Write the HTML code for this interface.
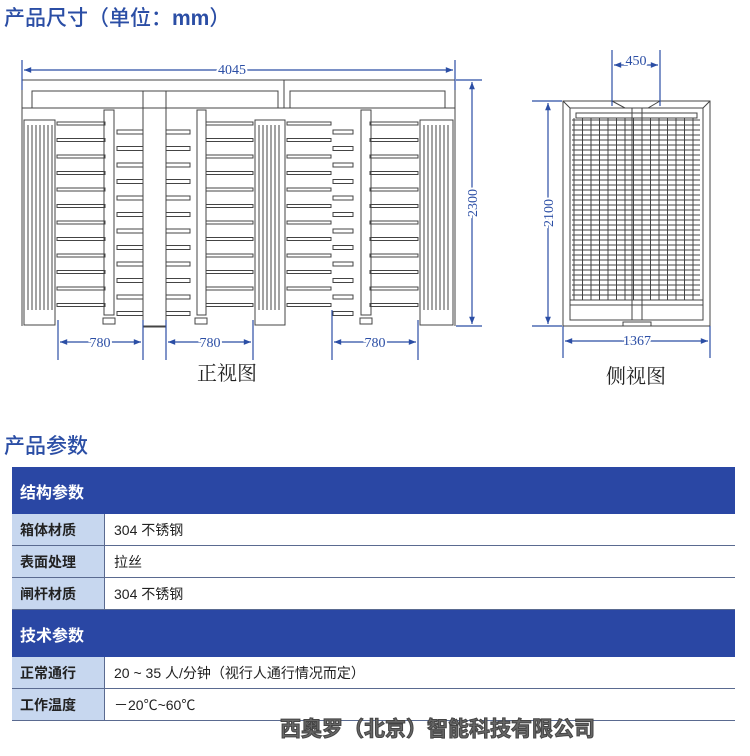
<!DOCTYPE html>
<html><head><meta charset="utf-8">
<style>
body{margin:0;width:750px;height:756px;background:#fff;position:relative;overflow:hidden;font-family:"Liberation Sans","Noto Sans CJK SC",sans-serif}
.t{position:absolute;color:#2b4ea5;font-weight:500}
table{position:absolute;left:12px;top:467px;width:723px;border-collapse:collapse;font-size:14px}
td{padding:0 0 0 8px;color:#222}
.h td{background:#2a47a4;color:#fff;font-size:16px;height:47px;font-weight:bold}
.r td{height:31px;border-bottom:1.5px solid #5a6a90}
.r td.l{background:#c7d7ef;width:84px;font-weight:bold;border-right:1.5px solid #5a6a90}
.r td.v{padding-left:9px}
</style></head><body>
<div class="t" style="left:4px;top:2px;font-size:21px">产品尺寸（单位：<b>mm</b>）</div>
<div class="t" style="left:4px;top:430px;font-size:21px">产品参数</div>
<svg id="s" width="750" height="430" style="position:absolute;left:0;top:0" font-family="Liberation Serif,serif">
<defs><marker id="a" viewBox="0 0 10 10" refX="10" refY="5" markerWidth="8" markerHeight="6" orient="auto-start-reverse"><path d="M0,1 L10,5 L0,9z" fill="#2b4ea5"/></marker></defs>
<g id="g" stroke="#444" fill="none" stroke-width="1"></g>
<g stroke="#2b4ea5" stroke-width="1.2" fill="none">
<line x1="22" y1="60" x2="22" y2="90"/><line x1="455" y1="60" x2="455" y2="90"/>
<line x1="24" y1="70" x2="453" y2="70" marker-start="url(#a)" marker-end="url(#a)"/>
<line x1="456" y1="80" x2="482" y2="80"/><line x1="456" y1="326" x2="482" y2="326"/>
<line x1="472" y1="82" x2="472" y2="324" marker-start="url(#a)" marker-end="url(#a)"/>
<line x1="58" y1="320" x2="58" y2="360"/><line x1="143" y1="320" x2="143" y2="360"/>
<line x1="166" y1="320" x2="166" y2="360"/><line x1="253" y1="320" x2="253" y2="360"/>
<line x1="332" y1="310" x2="332" y2="360"/><line x1="418" y1="320" x2="418" y2="360"/>
<line x1="60" y1="342" x2="141" y2="342" marker-start="url(#a)" marker-end="url(#a)"/>
<line x1="168" y1="342" x2="251" y2="342" marker-start="url(#a)" marker-end="url(#a)"/>
<line x1="334" y1="342" x2="416" y2="342" marker-start="url(#a)" marker-end="url(#a)"/>
<line x1="612" y1="50" x2="612" y2="106"/><line x1="660" y1="50" x2="660" y2="106"/>
<line x1="614" y1="65" x2="658" y2="65" marker-start="url(#a)" marker-end="url(#a)"/>
<line x1="532" y1="101" x2="562" y2="101"/><line x1="532" y1="326" x2="562" y2="326"/>
<line x1="548" y1="103" x2="548" y2="324" marker-start="url(#a)" marker-end="url(#a)"/>
<line x1="563" y1="326" x2="563" y2="358"/><line x1="710" y1="326" x2="710" y2="358"/>
<line x1="565" y1="341" x2="708" y2="341" marker-start="url(#a)" marker-end="url(#a)"/>
</g>
<g fill="#2b4ea5" font-size="14" text-anchor="middle">
<text x="232" y="74" style="paint-order:stroke" stroke="#fff" stroke-width="4">4045</text>
<text x="100" y="347" stroke="#fff" stroke-width="4" style="paint-order:stroke">780</text>
<text x="210" y="347" stroke="#fff" stroke-width="4" style="paint-order:stroke">780</text>
<text x="375" y="347" stroke="#fff" stroke-width="4" style="paint-order:stroke">780</text>
<text x="636" y="65" stroke="#fff" stroke-width="4" style="paint-order:stroke">450</text>
<text x="637" y="345" stroke="#fff" stroke-width="4" style="paint-order:stroke">1367</text>
<text transform="translate(477,203) rotate(-90)" stroke="#fff" stroke-width="4" style="paint-order:stroke">2300</text>
<text transform="translate(553,213) rotate(-90)" stroke="#fff" stroke-width="4" style="paint-order:stroke">2100</text>
</g>
<g fill="#222" font-size="20" font-family="Liberation Serif,Noto Serif CJK SC,serif" text-anchor="middle">
<text x="227" y="380">正视图</text><text x="636" y="383">侧视图</text></g>
</svg>
<table>
<tr class="h"><td colspan="2">结构参数</td></tr>
<tr class="r"><td class="l">箱体材质</td><td class="v">304 不锈钢</td></tr>
<tr class="r"><td class="l">表面处理</td><td class="v">拉丝</td></tr>
<tr class="r" style="border-bottom:none"><td class="l">闸杆材质</td><td class="v">304 不锈钢</td></tr>
<tr class="h"><td colspan="2">技术参数</td></tr>
<tr class="r"><td class="l">正常通行</td><td class="v">20 ~ 35 人/分钟（视行人通行情况而定）</td></tr>
<tr class="r"><td class="l">工作温度</td><td class="v">－20℃~60℃</td></tr>
</table>
<div style="position:absolute;left:280px;top:713px;font-size:21px;font-weight:bold;color:#666;-webkit-text-stroke:1px #444">西奥罗（北京）智能科技有限公司</div>
<script>
var g=document.getElementById('g'),s='';
function R(x,y,w,h){s+='<rect x="'+x+'" y="'+y+'" width="'+w+'" height="'+h+'"/>';}
function L(a,b,c,d){s+='<line x1="'+a+'" y1="'+b+'" x2="'+c+'" y2="'+d+'"/>';}
L(22,80,455,80);L(22,80,22,326);L(455,80,455,326);L(284,80,284,108);
R(32,91,111,17);R(166,91,112,17);R(290,91,155,17);L(22,108,455,108);
R(143,91,23,236);L(143,326,166,326);
[[22,57],[253,287],[418,455]].forEach(function(c){R(c[0]+2,120,c[1]-c[0]-4,205);for(var x=c[0]+6;x<c[1]-4;x+=4)L(x,125,x,310);});
for(var i=0;i<12;i++){var y=122+i*16.5;
 R(57,y,48,3);R(117,y+8,26,4);R(166,y+8,24,4);R(206,y,47,3);R(287,y,44,3);R(333,y+8,20,4);R(370,y,48,3);}
R(104,110,10,205);R(197,110,9,205);R(361,110,10,205);
[109,201,366].forEach(function(x){R(x-6,318,12,6);});
R(563,101,147,225);R(570,108,133,212);R(576,113,121,5);
s+='<path d="M563,101 L570,108 M710,101 L703,108 M612,101 L625,108 L648,108 L660,101"/>';
for(var x=574;x<700;x+=8.5)L(x,118,x,300);
for(var y=120;y<300;y+=5)L(572,y,700,y);
R(632,108,10,212);R(623,322,28,4);L(570,300,703,300);L(570,305,703,305);
g.innerHTML=s;
</script>
</body></html>
